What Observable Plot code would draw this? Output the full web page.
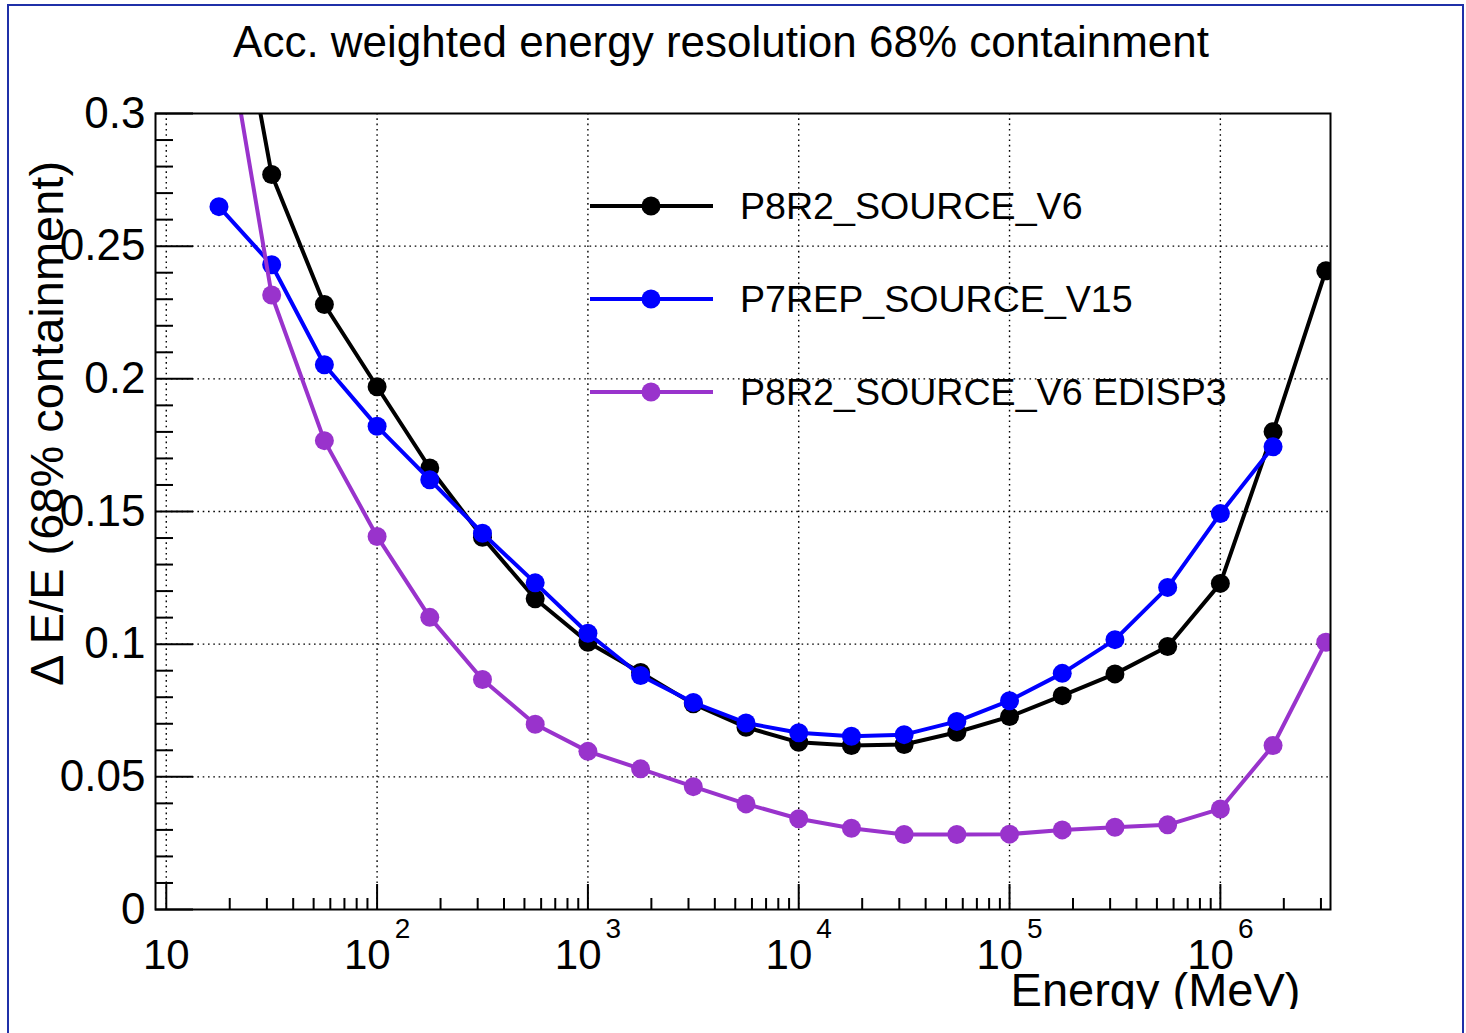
<!DOCTYPE html>
<html>
<head>
<meta charset="utf-8">
<script src="https://cdn.jsdelivr.net/npm/d3@7"></script>
<script src="https://cdn.jsdelivr.net/npm/@observablehq/plot@0.6"></script>
<style>
  body { margin: 0; background: #fff; }
  #wrap { position: relative; width: 1466px; height: 1033px; overflow: hidden; background: #fff;
          font-family: "Liberation Sans", Arial, Helvetica, sans-serif; }
  #chart { position: absolute; left: 0; top: 0; }
  #legend { position: absolute; left: 0; top: 0; pointer-events: none; }
  #border { position: absolute; left: 7px; top: 4px; width: 1457px; height: 1100px;
            border: 2px solid #1f30a8; box-sizing: border-box; pointer-events: none; }
</style>
</head>
<body>
<div id="wrap">
  <div id="chart"></div>
  <svg id="legend" width="1466" height="1033"></svg>
  <div id="border"></div>
</div>
<script>
// ---------- data ----------
const title = "Acc. weighted energy resolution 68% containment";
const xLabel = "Energy (MeV)";
const yLabel = "\u0394 E/E (68% containment)";

const energies = [17.78, 31.62, 56.23, 100, 177.8, 316.2, 562.3, 1000, 1778, 3162, 5623,
  10000, 17783, 31623, 56234, 100000, 177828, 316228, 562341, 1000000, 1778279, 3162278];

const seriesNames = ["P8R2_SOURCE_V6", "P7REP_SOURCE_V15", "P8R2_SOURCE_V6 EDISP3"];
const seriesColors = ["#000000", "#0000ff", "#9933cc"];

const p8r2 = [0.385, 0.277, 0.228, 0.197, 0.1664, 0.1403, 0.1171, 0.1007, 0.0893, 0.0775, 0.0687,
  0.0630, 0.0618, 0.0622, 0.0668, 0.0727, 0.0806, 0.0888, 0.0991, 0.1229, 0.1801, 0.2407];
const p7rep = [0.2649, 0.2430, 0.2053, 0.1821, 0.1620, 0.1418, 0.1231, 0.1041, 0.0882, 0.0780, 0.0703,
  0.0666, 0.0653, 0.0659, 0.0709, 0.0787, 0.0890, 0.1017, 0.1214, 0.1492, 0.1744, null];
const p8r2Edisp3 = [0.349, 0.2316, 0.1767, 0.1406, 0.1101, 0.0867, 0.0698, 0.0596, 0.0530, 0.0463, 0.0398,
  0.0342, 0.0306, 0.0283, 0.0283, 0.0284, 0.0300, 0.0310, 0.0319, 0.0379, 0.0618, 0.1007];

const xDomain = [8.89, 3.33e6];
const yDomain = [0, 0.3];

const xMajorTicks = [10, 100, 1000, 10000, 100000, 1000000];
const xTickLabels = ["10", "10^2", "10^3", "10^4", "10^5", "10^6"];
const xMinorTicks = [10, 100, 1000, 10000, 100000].flatMap(d => [2,3,4,5,6,7,8,9].map(m => m * d)).concat([2e6, 3e6]);
const yMajorTicks = [0, 0.05, 0.1, 0.15, 0.2, 0.25, 0.3];
const yTickLabels = ["0", "0.05", "0.1", "0.15", "0.2", "0.25", "0.3"];
const yMinorTicks = [0.01,0.02,0.03,0.04,0.06,0.07,0.08,0.09,0.11,0.12,0.13,0.14,0.16,0.17,0.18,0.19,
  0.21,0.22,0.23,0.24,0.26,0.27,0.28,0.29];

// ---------- build table ----------
const seriesValues = [p8r2, p7rep, p8r2Edisp3];
const rows = [];
seriesNames.forEach((name, si) => {
  seriesValues[si].forEach((v, i) => {
    if (v != null) rows.push({energy: energies[i], value: v, series: name});
  });
});

// ---------- layout ----------
const W = 1466, H = 1009;
const mL = 155, mR = 136, mT = 113, mB = 100;
const innerW = W - mL - mR, innerH = H - mT - mB;
const font = "Liberation Sans, Arial, Helvetica, sans-serif";
const grid = {stroke: "#000", strokeWidth: 1.4, strokeDasharray: "1.6,3.7"};
const dotR = 9.5;

const seriesMarks = seriesNames.flatMap((name, si) => {
  const d = rows.filter(r => r.series === name);
  return [
    Plot.line(d, {x: "energy", y: "value", stroke: seriesColors[si], strokeWidth: 4, clip: true}),
    Plot.dot(d, {x: "energy", y: "value", fill: seriesColors[si], r: dotR, clip: true})
  ];
});

const chart = Plot.plot({
  width: W, height: H,
  marginLeft: mL, marginRight: mR, marginTop: mT, marginBottom: mB,
  style: {fontFamily: font, background: "#fff", color: "#000", overflow: "hidden"},
  x: {type: "log", domain: xDomain, axis: null},
  y: {domain: yDomain, axis: null},
  marks: [
    // grid
    Plot.ruleX(xMajorTicks, {x: d => d, ...grid}),
    Plot.ruleY(yMajorTicks.filter(d => d > 0 && d < 0.3), {y: d => d, ...grid}),
    // ticks (inward)
    Plot.ruleX(xMajorTicks, {x: d => d, insetTop: innerH - 25, stroke: "#000", strokeWidth: 2}),
    Plot.ruleX(xMinorTicks, {x: d => d, insetTop: innerH - 11, stroke: "#000", strokeWidth: 2}),
    Plot.ruleY(yMajorTicks, {y: d => d, insetRight: innerW - 38, stroke: "#000", strokeWidth: 2}),
    Plot.ruleY(yMinorTicks, {y: d => d, insetRight: innerW - 18, stroke: "#000", strokeWidth: 2}),
    // data
    ...seriesMarks,
    Plot.frame({stroke: "#000", strokeWidth: 2}),
    // tick labels
    Plot.text(yMajorTicks, {y: d => d, text: (d, i) => yTickLabels[i], frameAnchor: "left",
      textAnchor: "end", lineAnchor: "middle", dx: -10, fontSize: 44, fill: "#000"}),
    Plot.text(xMajorTicks, {x: d => d, text: (d, i) => xTickLabels[i], frameAnchor: "bottom",
      textAnchor: "middle", lineAnchor: "middle", dy: 46, fontSize: 42, fill: "#000"}),
    // axis titles
    Plot.text([xLabel], {text: d => d, frameAnchor: "bottom-right", textAnchor: "end", lineAnchor: "middle",
      dx: -30, dy: 81, fontSize: 47, fill: "#000"}),
    Plot.text([yLabel], {text: d => d, frameAnchor: "left", rotate: -90, textAnchor: "middle", lineAnchor: "middle",
      dx: -108, dy: -88, fontSize: 47, fill: "#000"}),
    // title
    Plot.text([title], {text: d => d, frameAnchor: "top", textAnchor: "middle", lineAnchor: "middle",
      dx: -22, dy: -71, fontSize: 44, fill: "#000"})
  ]
});
document.getElementById("chart").appendChild(chart);

// superscript exponents on the x tick labels
const svgNS = "http://www.w3.org/2000/svg";
chart.querySelectorAll("text").forEach(t => {
  const m = /^10\^(\d+)$/.exec(t.textContent);
  if (!m) return;
  t.textContent = "";
  t.appendChild(document.createTextNode("10"));
  const sup = document.createElementNS(svgNS, "tspan");
  sup.setAttribute("dx", "4");
  sup.setAttribute("dy", "-31");
  sup.setAttribute("font-size", "28");
  sup.textContent = m[1];
  t.appendChild(sup);
});

// ---------- legend ----------
const leg = d3.select("#legend");
seriesNames.forEach((name, i) => {
  const y = 206 + 93 * i;
  const g = leg.append("g");
  g.append("line").attr("x1", 590).attr("x2", 713).attr("y1", y).attr("y2", y)
    .attr("stroke", seriesColors[i]).attr("stroke-width", 4);
  g.append("circle").attr("cx", 651).attr("cy", y).attr("r", dotR).attr("fill", seriesColors[i]);
  g.append("text").attr("x", 740).attr("y", y).attr("dy", "0.35em")
    .attr("font-family", font).attr("font-size", 37.6).attr("fill", "#000").text(name);
});
</script>
</body>
</html>
